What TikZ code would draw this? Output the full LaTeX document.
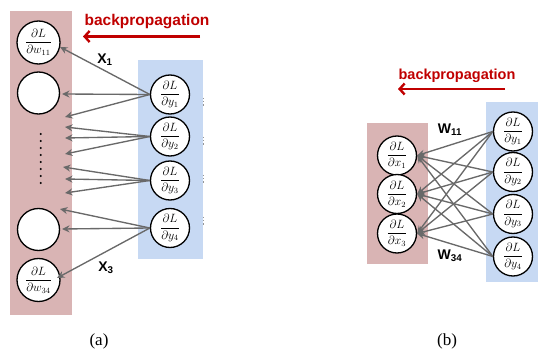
\documentclass[tikz,border=0pt]{standalone}
\usepackage{fontspec}
\setmainfont{Liberation Serif}
\setsansfont{Liberation Sans}
\usepackage{amsmath}
\usetikzlibrary{arrows.meta}
\definecolor{pinkbg}{RGB}{217,180,180}
\definecolor{bluebg}{RGB}{199,217,243}
\definecolor{bpred}{RGB}{192,0,0}
\definecolor{linkgray}{RGB}{105,105,105}
\begin{document}
\begin{tikzpicture}[x=1pt,y=-1pt,
  grad/.style={circle,draw,line width=1.3pt,fill=white,minimum size=#1,inner sep=0pt,
    font=\fontsize{12}{13}\selectfont},
  grad/.default=39pt,
  link/.style={draw=linkgray,line width=1.35pt,-{Stealth[length=7.5pt,width=7pt]}},
  bptext/.style={font=\sffamily\bfseries\fontsize{15.5}{18}\selectfont,text=bpred,inner sep=0pt},
  bparrow/.style={draw=bpred,line width=2.4pt,-{Straight Barb[length=5pt,width=11pt]}},
  wlabel/.style={font=\sffamily\bfseries\fontsize{14}{15}\selectfont,inner sep=0pt},
  caption/.style={font=\fontsize{17}{19}\selectfont,inner sep=0pt}]
\useasboundingbox (0,0) rectangle (539,350);

% ---------- (a): gradients with respect to the weights ----------
\fill[pinkbg] (10,11) rectangle (72,315);
\fill[bluebg] (138,60) rectangle (203,259);

\node[grad=43pt] (w11) at (38.5,42.5) {$\dfrac{\partial L}{\partial w_{11}}$};
\node[grad=42pt] (a2) at (38.5,93) {};
\node[grad=42pt] (a3) at (38.5,229.5) {};
\node[grad=43pt] (w34) at (38.5,280) {$\dfrac{\partial L}{\partial w_{34}}$};
\foreach \yy in {134,141,148,155,162,169,176,183}
  \fill (40.7,\yy) circle (1.1pt);

\node[grad] (ya1) at (170,94.5) {$\dfrac{\partial L}{\partial y_1}$};
\node[grad] (ya2) at (170,136.5) {$\dfrac{\partial L}{\partial y_2}$};
\node[grad] (ya3) at (170,180.5) {$\dfrac{\partial L}{\partial y_3}$};
\node[grad] (ya4) at (170,228) {$\dfrac{\partial L}{\partial y_4}$};

% small marks along the right edge of the output column
\foreach \yy in {98,137,175,217}
  \draw[linkgray!70,line width=0.8pt,dash pattern=on 1.2pt off 2pt] (203.5,\yy) -- (203.5,\yy+8);

% arrow tips on the weight column
\coordinate (t11) at (60,47);  \coordinate (t12) at (62,94);  \coordinate (t13) at (65,117);
\coordinate (t21) at (65,127); \coordinate (t22) at (65,138); \coordinate (t23) at (65,154);
\coordinate (t31) at (63,167); \coordinate (t32) at (65,179); \coordinate (t33) at (65,193);
\coordinate (t41) at (60,209); \coordinate (t42) at (62,229); \coordinate (t43) at (57,278);
\foreach \j in {1,2,3,4}
  \foreach \k in {1,2,3}
    \draw[link] (ya\j.west) -- (t\j\k);

\node[wlabel] (lx1) at (105,60) {X\textsubscript{1}};
\node[wlabel] (lx3) at (106,268) {X\textsubscript{3}};

\node[bptext] (bpa) at (147,21.5) {backpropagation};
\coordinate (bpa-s) at (200,36.5);
\coordinate (bpa-e) at (83,36.5);
\draw[bparrow] (bpa-s) -- (bpa-e);

\node[caption] (capa) at (99,341) {(a)};

% ---------- (b): gradients with respect to the inputs ----------
\fill[pinkbg] (367,123) rectangle (428,264);
\fill[bluebg] (486,102) rectangle (538,282);

\node[grad] (x1) at (397,155.5) {$\dfrac{\partial L}{\partial x_1}$};
\node[grad] (x2) at (397,194) {$\dfrac{\partial L}{\partial x_2}$};
\node[grad] (x3) at (397,233.5) {$\dfrac{\partial L}{\partial x_3}$};

\node[grad] (yb1) at (513,131.5) {$\dfrac{\partial L}{\partial y_1}$};
\node[grad] (yb2) at (513,172) {$\dfrac{\partial L}{\partial y_2}$};
\node[grad] (yb3) at (513,214) {$\dfrac{\partial L}{\partial y_3}$};
\node[grad] (yb4) at (513,256.5) {$\dfrac{\partial L}{\partial y_4}$};

\foreach \j in {1,2,3,4}
  \foreach \i in {1,2,3}
    \draw[link] (yb\j.west) -- (x\i.east);

\node[wlabel] (lw11) at (450,130) {W\textsubscript{11}};
\node[wlabel] (lw34) at (450,256) {W\textsubscript{34}};

\node[bptext,font=\sffamily\bfseries\fontsize{14.5}{17}\selectfont] (bpb) at (457,76) {backpropagation};
\coordinate (bpb-s) at (505,89);
\coordinate (bpb-e) at (398,89);
\draw[bparrow] (bpb-s) -- (bpb-e);

\node[caption] (capb) at (447,341) {(b)};
\end{tikzpicture}
\end{document}
